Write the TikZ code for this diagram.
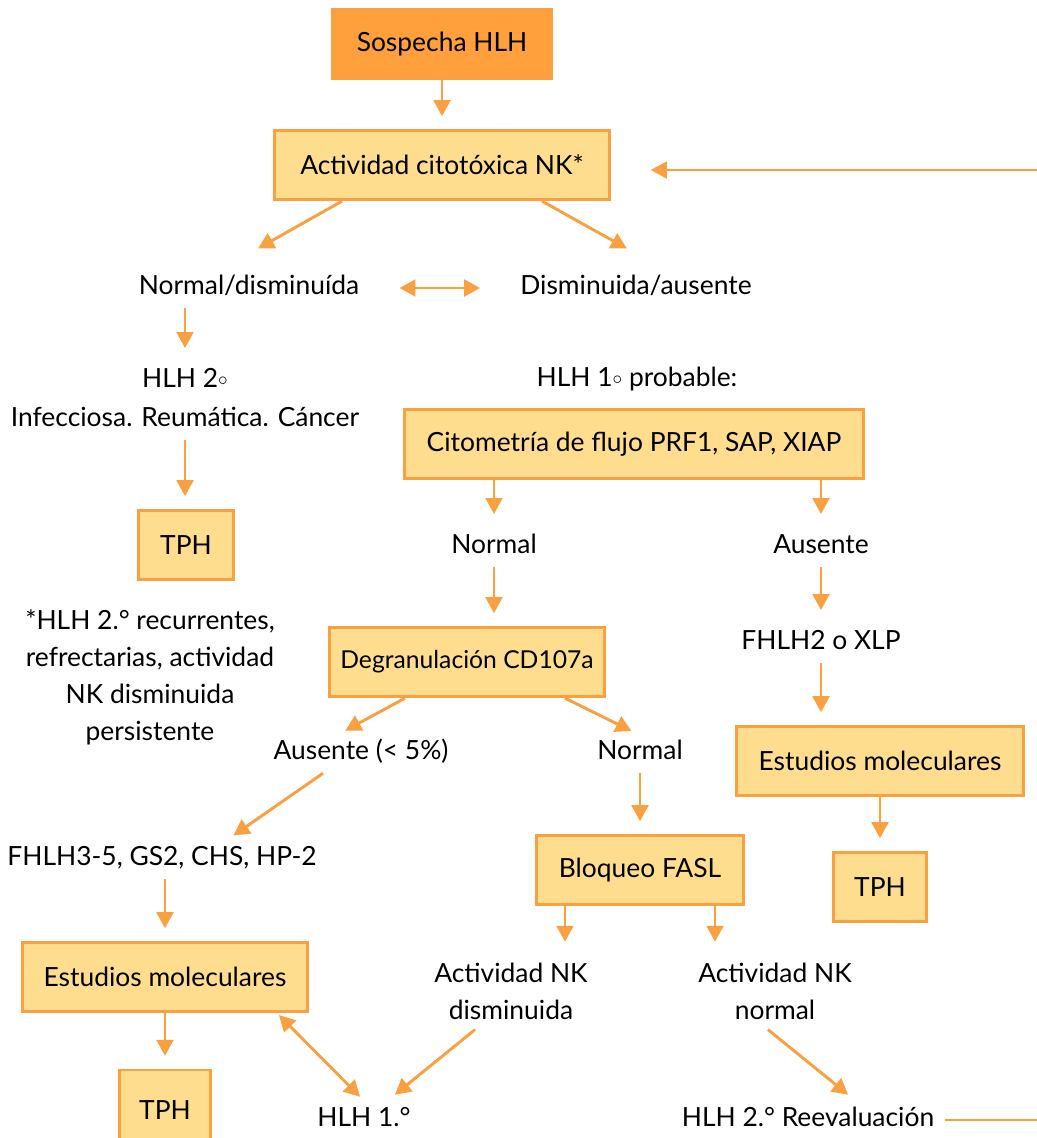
\documentclass[tikz,border=0pt]{standalone}
\usepackage{fontspec}
\setmainfont{Lato}
\usetikzlibrary{arrows.meta,positioning,calc}
\definecolor{linec}{HTML}{F9A040}
\definecolor{boxc}{HTML}{FFDD8E}
\definecolor{startc}{HTML}{FFA03D}
\newcommand{\ringdeg}{\raisebox{1.5pt}{$\scriptstyle\circ$}}

\begin{document}
\begin{tikzpicture}[
  x=0.75pt, y=-0.75pt,
  font=\fontsize{19.8}{27.75}\selectfont,
  box/.style={draw=linec, line width=2.2pt, fill=boxc, minimum height=52pt,
    inner sep=0pt, align=center},
  startbox/.style={box, fill=startc},
  txt/.style={text height=14pt, text depth=4pt, inner xsep=2pt, inner ysep=6pt},
  txtm/.style={align=center, inner xsep=2pt, inner ysep=6pt},
  arr/.style={-{Triangle[length=12pt,width=12.5pt]}, line width=2.2pt, draw=linec,
    shorten >=9.5pt},
  dblarr/.style={{Triangle[length=12pt,width=12.5pt]}-{Triangle[length=12pt,width=12.5pt]},
    line width=2.2pt, draw=linec},
  plain/.style={line width=2.2pt, draw=linec}
]
  \clip (0,0) rectangle (1037,1138);

  \node[startbox, minimum width=164pt] (sos) at (442,44) {Sospecha HLH};
  \node[box, minimum width=251pt] (act) at (442,165) {Actividad citotóxica NK*};

  \node[txt] (nd) at (249,288) {Normal/disminuída};
  \node[txt] (da) at (636,288) {Disminuida/ausente};

  % left branch
  \node[txt] (h2) at (185,381) {HLH 2\ringdeg};
  \node[txt] (inf) at (185,420) {Infecciosa. Reumática. Cáncer};
  \node[box, minimum width=71pt] (tph1) at (186,545) {TPH};
  \node[txtm] (note) at (150,677)
    {*HLH 2.° recurrentes,\\refrectarias, actividad\\NK disminuida\\persistente};

  % right branch
  \node[txt] (h1p) at (637,380) {HLH 1\ringdeg{} probable:};
  \node[box, minimum width=344pt] (cit) at (634,444) {Citometría de flujo PRF1, SAP, XIAP};
  \node[txt] (nrm1) at (494,547) {Normal};
  \node[txt] (aus1) at (821,547) {Ausente};
  \node[box, minimum width=206pt, font=\fontsize{18.5}{27.75}\selectfont] (deg) at (467,662)
    {Degranulación CD107a};
  \node[txt] (fx) at (821,643) {FHLH2 o XLP};
  \node[box, minimum width=215pt] (em1) at (880,761) {Estudios moleculares};
  \node[box, minimum width=70pt] (tph2) at (880,887) {TPH};

  \node[txt] (aus2) at (361,753) {Ausente (< 5\%)};
  \node[txt] (nrm2) at (640,753) {Normal};
  \node[box, minimum width=155pt] (blq) at (640,870) {Bloqueo FASL};
  \node[txt] (fh) at (162,859) {FHLH3-5, GS2, CHS, HP-2};
  \node[box, minimum width=214pt] (em2) at (165,977) {Estudios moleculares};
  \node[box, minimum width=68pt, minimum height=60pt] (tph3) at (165,1110) {TPH};
  \node[txtm] (nkd) at (511,991) {Actividad NK\\disminuida};
  \node[txtm] (nkn) at (775,991) {Actividad NK\\normal};
  \node[txt] (hl1) at (364,1120) {HLH 1.°};
  \node[txt] (h2r) at (808,1120) {HLH 2.° Reevaluación};

  \coordinate (rtop) at (1040,170);
  \coordinate (rbot) at (1040,1122);

  \draw[arr] (sos) -- (act);
  \draw[arr] ($(act.south)+(-100,0)$) -- ($(nd.north)+(-2,-13)$);
  \draw[arr] ($(act.south)+(100,0)$) -- ($(da.north)+(2,-13)$);
  \draw[dblarr, shorten <=28pt, shorten >=28pt] (nd) -- (da);

  \draw[arr] (h2.north |- nd.south) -- (h2.north);
  \draw[arr] (inf.south) -- (inf.south |- tph1.north);

  \draw[arr] (cit.south -| nrm1) -- (nrm1.north);
  \draw[arr] (cit.south -| aus1) -- (aus1.north);
  \draw[arr] (nrm1.south) -- (nrm1.south |- deg.north);
  \draw[arr] (aus1) -- (fx);
  \draw[arr] (fx.south) -- (fx.south |- em1.north);
  \draw[arr] (em1) -- (tph2);

  \draw[arr] ($(deg.south)+(-62,0)$) -- ($(aus2.north)+(-27,4)$);
  \draw[arr] ($(deg.south)+(98,0)$) -- ($(nrm2.north)+(3,4)$);
  \draw[arr] (nrm2) -- (blq);
  \draw[arr] ($(aus2.south)+(-38,0)$) -- ($(fh.north)+(61,4)$);
  \draw[arr] (fh.south -| em2) -- (em2);
  \draw[arr] (em2) -- (tph3);

  \draw[arr] ($(blq.south)+(-75,0)$) -- ($(nkd.north)+(54,0)$);
  \draw[arr] ($(blq.south)+(75,0)$) -- ($(nkn.north)+(-60,0)$);
  \draw[arr] ($(nkd.south)+(-36,2)$) -- ($(hl1.north)+(21,3)$);
  \draw[dblarr] ($(em2.south)+(114,2)$) -- ($(hl1.north)+(-4,-3)$);
  \draw[arr] ($(nkn.south)+(-7,2)$) -- ($(h2r.north)+(50,3)$);

  % return to the start
  \draw[plain] (h2r.east) ++(8,0) -- (h2r.east -| rbot);
  \draw[arr, shorten >=30pt] (rtop) -- (rtop -| act.east);
\end{tikzpicture}
\end{document}
